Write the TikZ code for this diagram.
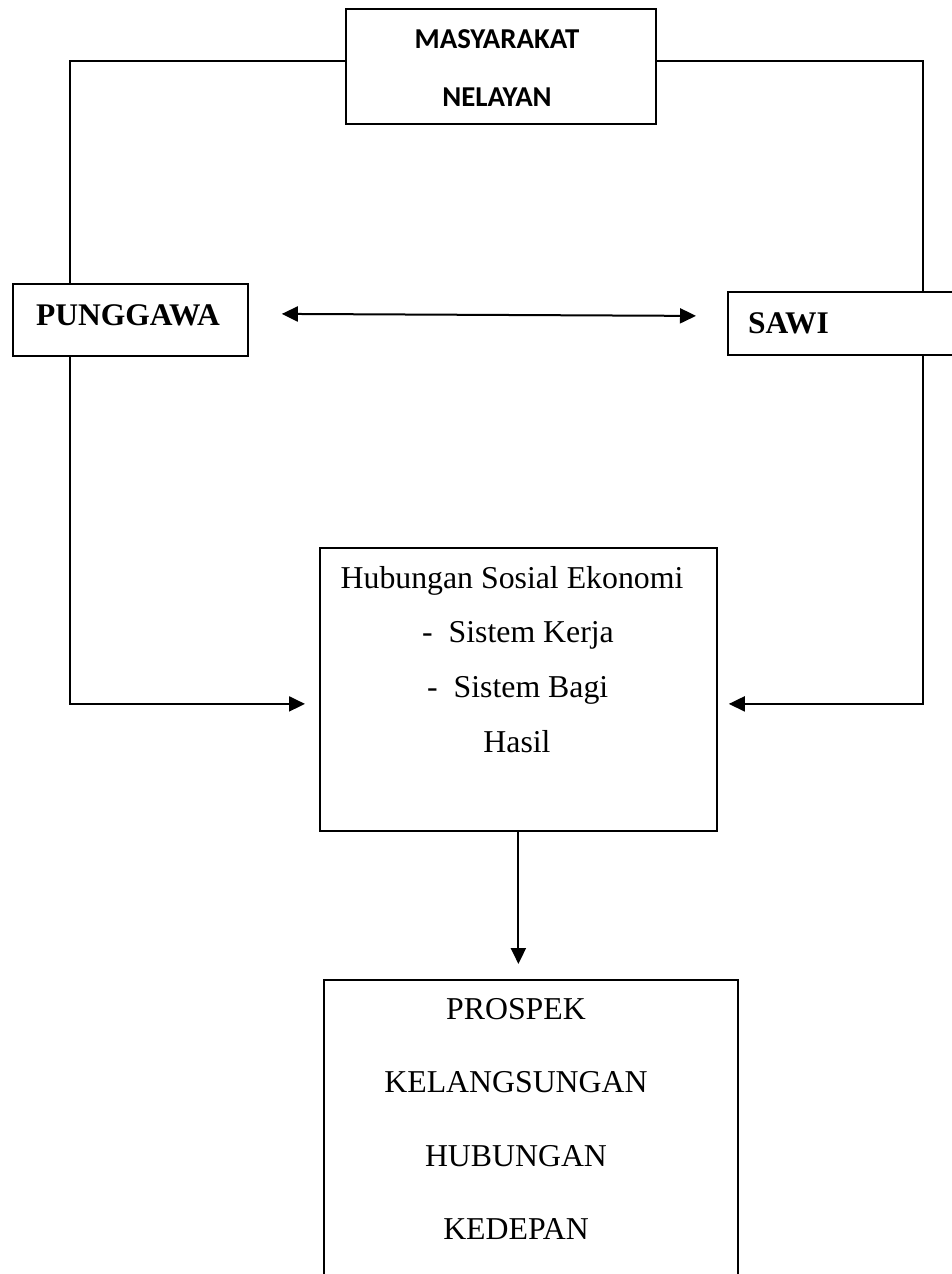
\documentclass[tikz,border=0pt]{standalone}
\usepackage{fontspec}
\setmainfont{Liberation Serif}
\newfontfamily\calibri{Carlito}
\usetikzlibrary{arrows.meta}
\tikzset{
  boxnode/.style={draw=black, line width=1.8pt, rectangle, inner sep=0pt, anchor=north west},
  serif/.style={font=\fontsize{31.8}{36}\selectfont, inner sep=0pt},
  serifbold/.style={font=\fontsize{31.5}{36}\selectfont\bfseries, inner sep=0pt},
  sanstxt/.style={font=\calibri\fontsize{28.8}{32}\selectfont\bfseries, inner sep=0pt},
  conn/.style={line width=2pt, draw=black},
  tip/.style={-{Triangle[length=16pt,width=15pt]}},
  dtip/.style={{Triangle[length=16pt,width=15pt]}-{Triangle[length=16pt,width=15pt]}}
}
\begin{document}
\begin{tikzpicture}[x=1pt,y=-1pt]
\useasboundingbox[fill=white] (0,0) rectangle (952,1274);
% boxes
\node[boxnode, minimum width=310pt, minimum height=115pt] (mas) at (345,8) {};
\node[boxnode, minimum width=235pt, minimum height=72pt] (pun) at (12,283) {};
\node[boxnode, minimum width=260pt, minimum height=63pt] (sawi) at (727,291) {};
\node[boxnode, minimum width=397pt, minimum height=283pt] (hub) at (319,547) {};
\node[boxnode, minimum width=414pt, minimum height=330pt] (pro) at (323,979) {};
% texts
\node[sanstxt, anchor=base] (mas1) at (497,48) {MASYARAKAT};
\node[sanstxt, anchor=base] (mas2) at (497,106) {NELAYAN};
\node[serifbold, anchor=base] (punt) at (128,325) {PUNGGAWA};
\node[serifbold, anchor=base west] (sawit) at (748,333) {SAWI};
\node[serif, anchor=base] (hub1) at (512,588) {Hubungan Sosial Ekonomi};
\node[serif, anchor=base west] (hub2) at (422,642) {-\ \ Sistem Kerja};
\node[serif, anchor=base west] (hub3) at (427,697) {-\ \ Sistem Bagi};
\node[serif, anchor=base] (hub4) at (517,752) {Hasil};
\node[serif, anchor=base] (pro1) at (516,1019) {PROSPEK};
\node[serif, anchor=base] (pro2) at (516,1092) {KELANGSUNGAN};
\node[serif, anchor=base] (pro3) at (516,1166) {HUBUNGAN};
\node[serif, anchor=base] (pro4) at (516,1239) {KEDEPAN};
% connectors
\draw[conn] ([yshift=5.5pt]mas.west) -| ([xshift=58pt]pun.north west);
\draw[conn] ([yshift=5.5pt]mas.east) -| ([xshift=196pt]sawi.north west);
\draw[conn, dtip] ([xshift=33pt,yshift=6pt]pun.east) -- ([xshift=-31pt,yshift=7.5pt]sawi.west);
\draw[conn, tip] ([xshift=58pt]pun.south west) |- ([xshift=-14pt,yshift=-14.5pt]hub.west);
\draw[conn, tip] ([xshift=196pt]sawi.south west) |- ([xshift=11pt,yshift=-14.5pt]hub.east);
\draw[conn, tip] (hub.south) -- ([yshift=15pt]pro.north -| hub.south);
\end{tikzpicture}
\end{document}
